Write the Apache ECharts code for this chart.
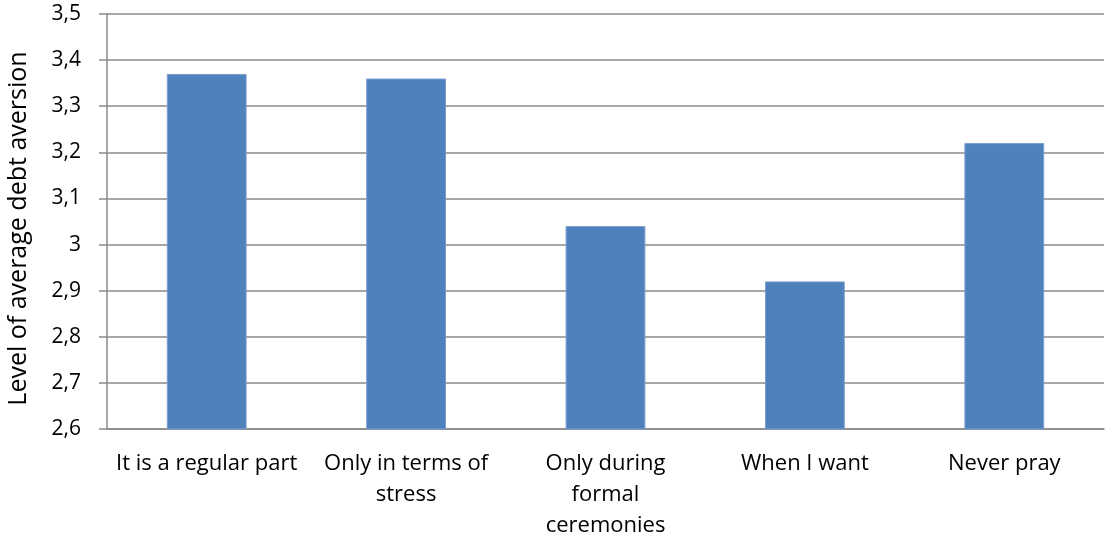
<!DOCTYPE html>
<html>
<head>
<meta charset="utf-8">
<script src="https://cdn.jsdelivr.net/npm/echarts@6/dist/echarts.min.js"></script>
<style>
  html, body { margin: 0; padding: 0; background: #fff; }
  #chart { width: 1105px; height: 540px; }
</style>
</head>
<body>
<div id="chart"></div>
<script>
// Prayer frequency groups and their mean debt-aversion score
const categories = [
  'It is a regular part',
  'Only in terms of\nstress',
  'Only during\nformal\nceremonies',
  'When I want',
  'Never pray'
];
const debtAversion = [3.37, 3.36, 3.04, 2.92, 3.22];
const yTitle = 'Level of average debt aversion';

const FONT = '"Open Sans", "Liberation Sans", sans-serif';
const GRID_GRAY = '#8a8a8a';

const chart = echarts.init(document.getElementById('chart'), null, { renderer: 'canvas' });
chart.setOption({
  animation: false,
  backgroundColor: '#ffffff',
  grid: { left: 107, right: 1, top: 14, bottom: 111, containLabel: false, outerBoundsMode: 'none' },
  xAxis: {
    type: 'category',
    data: categories,
    axisLine: { show: true, lineStyle: { color: GRID_GRAY, width: 1.5 } },
    axisTick: { show: false },
    axisLabel: {
      interval: 0,
      margin: 19,
      color: '#000',
      fontFamily: FONT,
      fontSize: 22,
      lineHeight: 31,
      align: 'center'
    }
  },
  yAxis: {
    type: 'value',
    min: 2.6,
    max: 3.5,
    interval: 0.1,
    name: yTitle,
    nameLocation: 'middle',
    nameGap: 76,
    nameRotate: 90,
    nameTextStyle: { color: '#000', fontFamily: FONT, fontSize: 25, padding: [0, 14, 0, 0] },
    axisLine: { show: true, lineStyle: { color: GRID_GRAY, width: 1.5 } },
    axisTick: { show: true, inside: false, length: 8, lineStyle: { color: GRID_GRAY, width: 1.5 } },
    splitLine: { show: true, lineStyle: { color: GRID_GRAY, width: 1.5 } },
    axisLabel: {
      margin: 26,
      color: '#000',
      fontFamily: FONT,
      fontSize: 21,
      formatter: v => String(Number(v.toFixed(1))).replace('.', ',')
    }
  },
  series: [{
    type: 'bar',
    data: debtAversion,
    barCategoryGap: '60%',
    itemStyle: { color: '#4f81bd', borderColor: '#7a9ccc', borderWidth: 1 }
  }]
});
</script>
</body>
</html>
